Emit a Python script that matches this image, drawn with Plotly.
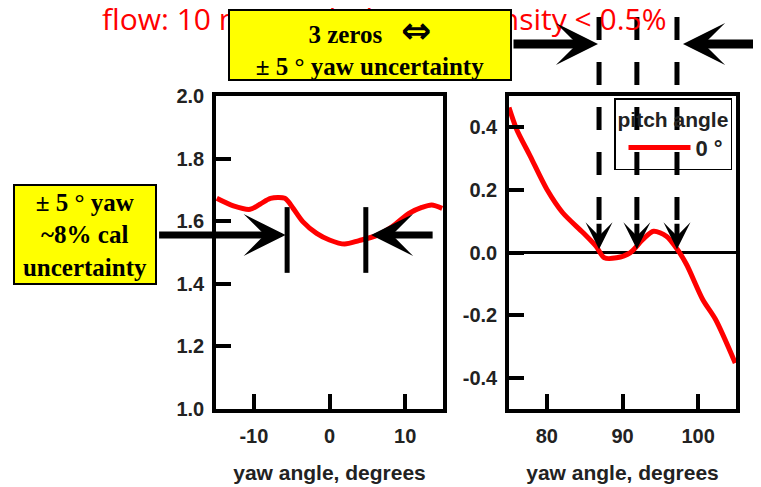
import plotly.graph_objects as go

W, H = 761, 487
OFF = 8  # page body margin in the browser

# left panel: calibration vs yaw
left_yaw = [-14.9, -12.7, -10.5, -9.2, -7.8, -5.9, -4.8, -3.5, -1.7, 0.0,
            2.0, 3.9, 6.1, 8.3, 10.5, 12.2, 13.5, 14.9]
left_cal = [1.673, 1.649, 1.638, 1.654, 1.673, 1.673, 1.641, 1.598, 1.561, 1.540,
            1.527, 1.538, 1.553, 1.583, 1.625, 1.644, 1.652, 1.641]

# right panel: signal vs yaw around 90 deg
right_yaw = [75.0, 76.0, 77.8, 80.0, 82.1, 84.8, 86.5, 87.6, 89.2, 91.0,
             92.7, 94.1, 95.8, 97.3, 98.5, 100.6, 102.3, 104.9]
right_val = [0.463, 0.394, 0.308, 0.202, 0.127, 0.063, 0.020, -0.017, -0.017, -0.001,
             0.042, 0.068, 0.052, 0.008, -0.040, -0.150, -0.214, -0.353]

left_xticks = [-10, 0, 10]
left_xtext = ["-10", "0", "10"]
left_yticks = [1.0, 1.2, 1.4, 1.6, 1.8, 2.0]
left_ytext = ["1.0", "1.2", "1.4", "1.6", "1.8", "2.0"]
right_xticks = [80, 90, 100]
right_xtext = ["80", "90", "100"]
right_yticks = [-0.4, -0.2, 0.0, 0.2, 0.4]
right_ytext = ["-0.4", "-0.2", "0.0", "0.2", "0.4"]

zero_crossings = [86.9, 91.9, 97.2]   # the three marked zeros
yaw_marks = [-5.6, 4.8]               # +-5 deg bars on left panel

title_text = "flow: 10 m/s, turbulence intensity &lt; 0.5%"
box_top_text = ("3 zeros\u00a0\u00a0\u00a0"
                "<span style='font-family:DejaVu Sans;font-size:36px'>\u21d4</span>"
                "<br>\u00b1 5 \u00b0 yaw uncertainty")
box_left_text = "\u00b1 5 \u00b0 yaw<br>~8% cal<br>uncertainty"


def px(x):
    return (x - OFF) / W


def py(y):
    return 1 - (y - OFF) / H


fig = go.Figure()
fig.add_trace(go.Scatter(x=left_yaw, y=left_cal, mode="lines", xaxis="x", yaxis="y",
                         line=dict(color="red", width=5, shape="spline", smoothing=0.8),
                         showlegend=False))
fig.add_trace(go.Scatter(x=right_yaw, y=right_val, mode="lines", xaxis="x2", yaxis="y2",
                         name="0 \u00b0",
                         line=dict(color="red", width=5, shape="spline", smoothing=0.8)))

tickfont = dict(family="Liberation Sans, Arial", size=20, color="#222", weight="bold")
titlefont = dict(family="Liberation Sans, Arial", size=21, color="#222", weight="bold")
axis_common = dict(showline=True, linewidth=3.5, linecolor="black", mirror=True,
                   ticks="inside", ticklen=15, tickwidth=3.5, tickcolor="black",
                   showgrid=False, tickfont=tickfont, automargin=False)

fig.update_layout(
    width=W, height=H, margin=dict(l=0, r=0, t=0, b=0, autoexpand=False),
    paper_bgcolor="white", plot_bgcolor="white",
    xaxis=dict(domain=[px(216), px(443)], range=[-15, 15], tickvals=left_xticks,
               ticktext=left_xtext, anchor="y", ticklabelstandoff=6, zeroline=False,
               title=dict(text="yaw angle, degrees", font=titlefont, standoff=21),
               **axis_common),
    yaxis=dict(domain=[py(409), py(96)], range=[1, 2], tickvals=left_yticks,
               ticktext=left_ytext, anchor="x", ticklabelstandoff=4, zeroline=False,
               **axis_common),
    xaxis2=dict(domain=[px(509), px(736)], range=[75, 105], tickvals=right_xticks,
                ticktext=right_xtext, anchor="y2", ticklabelstandoff=6, zeroline=False,
                title=dict(text="yaw angle, degrees", font=titlefont, standoff=21),
                **axis_common),
    yaxis2=dict(domain=[py(409), py(96)], range=[-0.5, 0.5], tickvals=right_yticks,
                ticktext=right_ytext, anchor="x2", ticklabelstandoff=4,
                zeroline=True, zerolinecolor="black", zerolinewidth=2.5,
                **axis_common),
    legend=dict(x=px(614), y=py(98), xanchor="left", yanchor="top",
                bordercolor="black", borderwidth=1.5, bgcolor="rgba(0,0,0,0)",
                itemwidth=62, tracegroupgap=0, indentation=8,
                title=dict(text="pitch angle", side="top",
                           font=dict(family="Liberation Sans, Arial", size=21, color="#222")),
                font=dict(family="Liberation Sans, Arial", size=22, color="#222", weight="bold")),
)

# dashed guides down to the zero crossings
for xc in zero_crossings:
    fig.add_shape(type="line", xref="x2", yref="paper", x0=xc, x1=xc, y0=py(17), y1=py(221),
                  line=dict(color="black", width=5, dash="23px,22px"))
    fig.add_annotation(x=xc, y=0.01, xref="x2", yref="y2", text="", showarrow=True,
                       ax=0, ay=-27, arrowhead=3, arrowwidth=5, arrowsize=0.9, arrowcolor="black")

# +-5 deg bars on left panel
for xm in yaw_marks:
    fig.add_shape(type="line", xref="x", yref="y", x0=xm, x1=xm, y0=1.435, y1=1.645,
                  line=dict(color="black", width=5))

# arrows on left panel
fig.add_annotation(x=-5.8, y=1.556, xref="x", yref="y", text="", showarrow=True,
                   ax=-128, ay=0, arrowhead=3, arrowwidth=7, arrowsize=1, arrowcolor="black")
fig.add_annotation(x=5.5, y=1.556, xref="x", yref="y", text="", showarrow=True,
                   ax=63, ay=0, arrowhead=3, arrowwidth=7, arrowsize=1, arrowcolor="black")

# title (partly hidden under the yellow box)
fig.add_annotation(x=px(384), y=py(19), xref="paper", yref="paper", text=title_text,
                   xanchor="center", yanchor="middle",
                   showarrow=False, font=dict(family="Open Sans", size=30, color="red"))

# arrows at top
fig.add_annotation(x=px(598), y=py(44), xref="paper", yref="paper", text="", showarrow=True,
                   ax=-86, ay=0, arrowhead=3, arrowwidth=9, arrowsize=0.78, arrowcolor="black")
fig.add_annotation(x=px(683), y=py(44), xref="paper", yref="paper", text="", showarrow=True,
                   ax=80, ay=0, arrowhead=3, arrowwidth=9, arrowsize=0.78, arrowcolor="black")

boxfont = dict(family="Liberation Serif, Times New Roman", size=25, color="black", weight="bold")
fig.add_annotation(x=px(370), y=py(45), xref="paper", yref="paper", text=box_top_text,
                   xanchor="center", yanchor="middle",
                   showarrow=False, font=boxfont, bgcolor="yellow", bordercolor="black",
                   borderwidth=2, borderpad=0, width=280, height=68)
fig.add_annotation(x=px(85), y=py(234), xref="paper", yref="paper", text=box_left_text,
                   xanchor="center", yanchor="middle",
                   showarrow=False, font=boxfont, bgcolor="yellow", bordercolor="black",
                   borderwidth=2, borderpad=0, width=140, height=97)

fig.write_html("out.html")
